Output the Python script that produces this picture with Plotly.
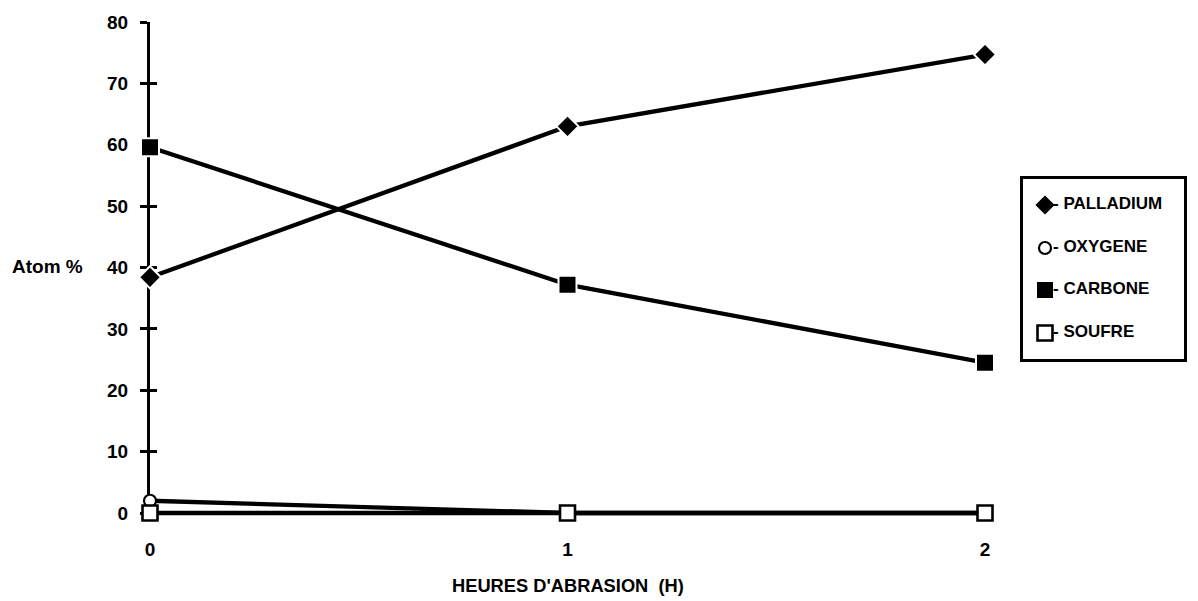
import plotly.graph_objects as go

# Atomic composition of the surface vs. abrasion time
heures = [0, 1, 2]
palladium = [38.4, 63.0, 74.7]
oxygene = [2.0, 0.0, 0.0]
carbone = [59.6, 37.2, 24.5]
soufre = [0.0, 0.0, 0.0]

y_ticks = [0, 10, 20, 30, 40, 50, 60, 70, 80]
x_ticks = [0, 1, 2]

legend_labels = ["PALLADIUM", "OXYGENE", "CARBONE", "SOUFRE"]

W, H = 1198, 601
FONT = "Liberation Sans"

# plot area in pixels (y=0 sits at PY_ZERO, y=80 at PY_TOP)
PX0, PX1 = 150, 985
PY_TOP, PY_ZERO = 22, 513
Y_MIN, Y_MAX = -1.2, 80
px_per_unit = (PY_ZERO - PY_TOP) / Y_MAX
PY_BOT = PY_ZERO - Y_MIN * px_per_unit
# legend box in pixels
LX0, LX1 = 1023, 1184
LY0, LY1 = 179, 359

styles = {
    "PALLADIUM": dict(symbol="diamond", size=17, color="black", line=dict(color="white", width=2)),
    "OXYGENE": dict(symbol="circle", size=12, color="white", line=dict(color="black", width=2.2)),
    "CARBONE": dict(symbol="square", size=18, color="black", line=dict(color="white", width=2)),
    "SOUFRE": dict(symbol="square", size=15, color="white", line=dict(color="black", width=2.6)),
}
series = {
    "PALLADIUM": palladium,
    "OXYGENE": oxygene,
    "CARBONE": carbone,
    "SOUFRE": soufre,
}

fig = go.Figure()

for name in legend_labels:
    fig.add_trace(go.Scatter(
        x=heures, y=series[name], mode="lines+markers", name=name,
        line=dict(color="black", width=4.3),
        marker=styles[name], cliponaxis=False, showlegend=False,
        xaxis="x", yaxis="y",
    ))

# helper trace so the overlaid axis (inner half of the cross ticks) is drawn
fig.add_trace(go.Scatter(x=[None], y=[None], xaxis="x", yaxis="y3",
                         showlegend=False, hoverinfo="skip"))

# hand-built legend: marker, dash and label inside a framed box
leg_x_marker = 1045
leg_x_text = 1053
leg_rows = [205, 248, 290, 333]
for name, row in zip(legend_labels, leg_rows):
    fig.add_trace(go.Scatter(
        x=[leg_x_marker], y=[row], mode="markers", marker=styles[name],
        xaxis="x2", yaxis="y2", showlegend=False, hoverinfo="skip", cliponaxis=False,
    ))
    fig.add_trace(go.Scatter(
        x=[leg_x_text], y=[row], mode="text", text=["- " + name],
        textposition="middle right",
        textfont=dict(family=FONT, size=17, color="black", weight="bold"),
        xaxis="x2", yaxis="y2", showlegend=False, hoverinfo="skip", cliponaxis=False,
    ))

dom_x = [PX0 / W, PX1 / W]
dom_y = [(H - PY_BOT) / H, (H - PY_TOP) / H]

tick_font = dict(family=FONT, size=19, color="black", weight="bold")

fig.update_layout(
    width=W, height=H,
    margin=dict(l=0, r=0, t=0, b=0),
    paper_bgcolor="white", plot_bgcolor="white",
    font=dict(family=FONT, size=19, color="black"),
    xaxis=dict(
        domain=dom_x, range=[0, 2], tickvals=x_ticks, ticktext=[str(v) for v in x_ticks],
        showline=False, showgrid=False, zeroline=False, ticks="",
        ticklabelstandoff=16, automargin=False,
        tickfont=tick_font,
    ),
    yaxis=dict(
        domain=dom_y, range=[Y_MIN, Y_MAX], tickvals=y_ticks,
        showline=True, linecolor="black", linewidth=3, layer="below traces",
        showgrid=False, zeroline=False,
        ticks="outside", ticklen=7, tickwidth=3, tickcolor="black",
        ticklabelstandoff=8, automargin=False,
        tickfont=tick_font,
    ),
    yaxis3=dict(
        overlaying="y", anchor="x", range=[Y_MIN, Y_MAX], tickvals=y_ticks,
        showticklabels=False, showline=False, showgrid=False, zeroline=False,
        ticks="inside", ticklen=7, tickwidth=3, tickcolor="black",
        layer="below traces",
    ),
    xaxis2=dict(
        domain=[LX0 / W, LX1 / W], range=[LX0, LX1], anchor="y2",
        showline=True, mirror=True, linecolor="black", linewidth=2.5,
        showgrid=False, zeroline=False, showticklabels=False, ticks="",
    ),
    yaxis2=dict(
        domain=[(H - LY1) / H, (H - LY0) / H], range=[LY1, LY0], anchor="x2",
        showline=True, mirror=True, linecolor="black", linewidth=2.5,
        showgrid=False, zeroline=False, showticklabels=False, ticks="",
    ),
    annotations=[
        dict(text="HEURES D'ABRASION  (H)", xref="paper", yref="paper",
             x=(PX0 + PX1) / 2 / W, y=(H - 585) / H, xanchor="center", yanchor="middle",
             showarrow=False, font=dict(family=FONT, size=18.3, color="black", weight="bold")),
        dict(text="Atom %", xref="paper", yref="paper",
             x=10 / W, y=(H - 266) / H, xanchor="left", yanchor="middle",
             showarrow=False, font=dict(family=FONT, size=19, color="black", weight="bold")),
    ],
)

fig.write_html("out.html")
